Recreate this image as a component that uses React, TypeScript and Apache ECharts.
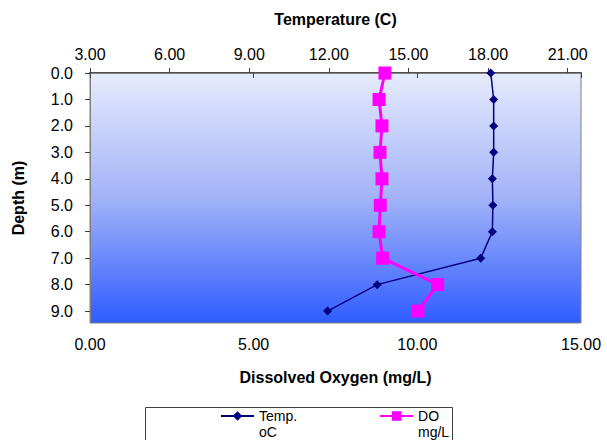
import React, { useEffect, useRef } from "react";
import * as echarts from "echarts";

const depths = [0, 1, 2, 3, 4, 5, 6, 7, 8, 9];
const temperature = [18.1, 18.21, 18.21, 18.21, 18.16, 18.18, 18.16, 17.72, 13.82, 11.95];
const dissolvedOxygen = [9.01, 8.83, 8.92, 8.86, 8.92, 8.87, 8.83, 8.94, 10.62, 10.02];
const seriesNames = ["Temp.\noC", "DO\nmg/L"];

const FONT = "'Liberation Sans', Arial, sans-serif";

export default function App() {
  const ref = useRef<HTMLDivElement>(null);
  useEffect(() => {
    if (!ref.current) return;
    const chart = echarts.init(ref.current, null, { renderer: "svg" });
    const labelStyle = { fontSize: 16, color: "#000", fontFamily: FONT };
    const nameStyle = { fontSize: 16, fontWeight: "bold" as const, color: "#000", fontFamily: FONT };
    const axisLine = { show: true, lineStyle: { color: "#808080", width: 1 } };
    const axisTick = { show: true, inside: false, length: 5, lineStyle: { color: "#404040" } };
    const legendLeft = 220;
    const legendGap = 82;
    chart.setOption({
      animation: false,
      backgroundColor: "#fff",
      textStyle: { fontFamily: FONT },
      grid: {
        left: 90,
        right: 26,
        top: 73,
        bottom: 117,
        show: true,
        borderColor: "#808080",
        borderWidth: 1,
        backgroundColor: new echarts.graphic.LinearGradient(0, 0, 0, 1, [
          { offset: 0, color: "#e6ebfd" },
          { offset: 0.5, color: "#a2b3f7" },
          { offset: 1, color: "#2f5cff" },
        ]),
      },
      xAxis: [
        {
          type: "value",
          position: "bottom",
          min: 0,
          max: 15,
          interval: 5,
          name: "Dissolved Oxygen (mg/L)",
          nameLocation: "middle",
          nameGap: 46,
          nameTextStyle: nameStyle,
          axisLine: { show: true, lineStyle: { color: "#505050", width: 2 } },
          axisTick,
          splitLine: { show: false },
          axisLabel: { ...labelStyle, margin: 13, formatter: (v: number) => v.toFixed(2) },
        },
        {
          type: "value",
          position: "top",
          min: 3,
          max: 21.5,
          interval: 3,
          name: "Temperature (C)",
          nameLocation: "middle",
          nameGap: 46,
          nameTextStyle: nameStyle,
          axisLine,
          axisTick,
          splitLine: { show: false },
          axisLabel: {
            ...labelStyle,
            margin: 11,
            showMaxLabel: false,
            formatter: (v: number) => (v > 21 ? "" : v.toFixed(2)),
          },
        },
      ],
      yAxis: {
        type: "value",
        inverse: true,
        min: 0,
        max: 9.45,
        interval: 1,
        name: "Depth (m)",
        nameLocation: "middle",
        nameGap: 64,
        nameTextStyle: nameStyle,
        axisLine,
        axisTick,
        splitLine: { show: false },
        axisLabel: {
          ...labelStyle,
          margin: 17,
          showMaxLabel: false,
          formatter: (v: number) => (v > 9 ? "" : v.toFixed(1)),
        },
      },
      legend: {
        left: legendLeft,
        top: 407,
        padding: 0,
        itemGap: legendGap,
        itemWidth: 33,
        itemHeight: 12,
        formatter: (name: string) => name.split("\n")[0],
        textStyle: { fontSize: 14, lineHeight: 18, color: "#000", fontFamily: FONT },
        data: seriesNames,
      },
      graphic: [
        {
          type: "rect",
          left: 145,
          top: 407,
          z: -1,
          shape: { x: 0, y: 0, width: 307, height: 60 },
          style: { fill: "#fff", stroke: "#404040", lineWidth: 1 },
        },
        {
          type: "text",
          left: 259,
          top: 425,
          style: { text: seriesNames[0].split("\n")[1], fontSize: 14, fontFamily: FONT, fill: "#000" },
        },
        {
          type: "text",
          left: 418,
          top: 425,
          style: { text: seriesNames[1].split("\n")[1], fontSize: 14, fontFamily: FONT, fill: "#000" },
        },
      ],
      series: [
        {
          name: seriesNames[0],
          type: "line",
          xAxisIndex: 1,
          data: depths.map((d, i) => [temperature[i], d]),
          symbol: "diamond",
          symbolSize: 9,
          lineStyle: { color: "#000080", width: 1.5 },
          itemStyle: { color: "#000080" },
          z: 3,
        },
        {
          name: seriesNames[1],
          type: "line",
          xAxisIndex: 0,
          data: depths.map((d, i) => [dissolvedOxygen[i], d]),
          symbol: "rect",
          symbolSize: 13,
          lineStyle: { color: "#ff00ff", width: 3 },
          itemStyle: { color: "#ff00ff" },
          z: 4,
        },
      ],
    });
    return () => chart.dispose();
  }, []);
  return (
    <div
      ref={ref}
      style={{ position: "fixed", left: 0, top: 0, width: 607, height: 440 }}
    />
  );
}
